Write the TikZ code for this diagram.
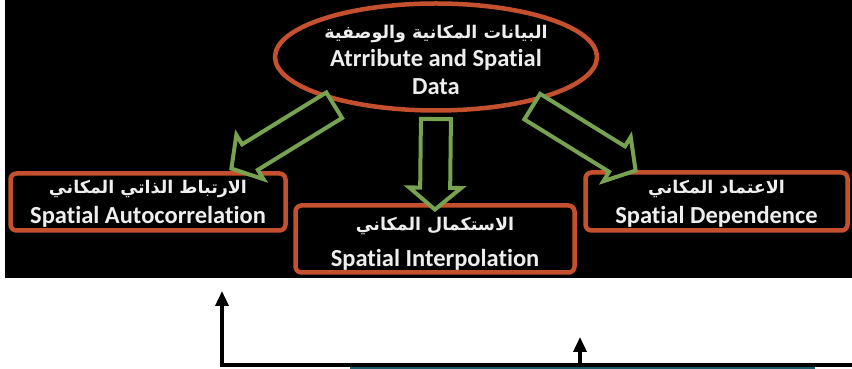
\documentclass[tikz,border=0pt]{standalone}
\usepackage{fontspec}
\setmainfont{Carlito}[Ligatures=NoCommon]
\newfontfamily\arabicfont[Script=Arabic]{DejaVu Sans}
\TeXXeTstate=1
\usetikzlibrary{arrows.meta,calc,shapes.geometric,shapes.arrows}
\definecolor{boxred}{HTML}{C4502E}
\definecolor{shaftgreen}{HTML}{77A24F}
\definecolor{textwhite}{HTML}{EEEEEE}
\definecolor{barteal}{HTML}{1F5B69}
\newcommand{\artext}[1]{{\arabicfont\fontsize{17.5}{18}\selectfont\beginR #1\endR}}
% hollow block arrow between two points, #1 is its name
\newcommand{\fatarrow}[3]{%
  \path let \p1=(#2), \p2=(#3), \n1={atan2(\y2-\y1,\x2-\x1)},
    \n2={veclen(\x2-\x1,\y2-\y1)} in
    node[fatarrow,minimum height=\n2,rotate=\n1] (#1) at ($(#2)!0.5!(#3)$) {};
}

\begin{document}
\begin{tikzpicture}[x=1pt,y=1pt,font=\fontsize{24.5}{28}\selectfont\bfseries,
  box/.style={draw=boxred,line width=4.5pt,fill=black,rounded corners=6pt},
  boxtext/.style={align=center,text=textwhite,inner sep=0pt},
  fatarrow/.style={single arrow,draw=shaftgreen,line width=4pt,fill=black,
    inner xsep=0pt,inner ysep=13pt,single arrow head extend=11pt,
    single arrow tip angle=100}]
  \useasboundingbox (0,0) rectangle (852,369);
  \fill[black] (5,91) rectangle (852,369);
  \node[box,ellipse,rounded corners=0pt,minimum width=322pt,minimum height=107pt]
    (data) at (436,312) {};
  \node[box,minimum width=275pt,minimum height=57pt] (autocorr) at (148,167) {};
  \node[box,minimum width=279pt,minimum height=67pt] (interp) at (435,130) {};
  \node[box,minimum width=262pt,minimum height=58pt] (depend) at (716.5,167.5) {};
  \node[boxtext] (datatext) at ($(data)+(0,-3)$)
    {\artext{البيانات المكانية والوصفية}\\Atrribute and Spatial\\Data};
  \node[boxtext] (autocorrtext) at ($(autocorr)+(0,-2)$)
    {\artext{الارتباط الذاتي المكاني}\\[2pt]Spatial Autocorrelation};
  \node[boxtext] (interptext) at ($(interp)+(0,-5)$)
    {\artext{الاستكمال المكاني}\\[8pt]Spatial Interpolation};
  \node[boxtext] (dependtext) at ($(depend)+(0,-2)$)
    {\artext{الاعتماد المكاني}\\[2pt]Spatial Dependence};
  \coordinate (lefttip) at ($(autocorr.north east)+(-51,6)$);
  \coordinate (righttip) at ($(depend.north west)+(47,3)$);
  \fatarrow{toautocorr}{data.205}{lefttip}
  \fatarrow{tointerp}{data.south}{interp.north}
  \fatarrow{todepend}{data.333}{righttip}
  % feedback lines under the panel
  \coordinate (railend) at (852,4);
  \coordinate (railcorner) at (222,4);
  \coordinate (railtip) at (222,78);
  \coordinate (stubfoot) at (580,4);
  \coordinate (stubtip) at (580,32);
  \fill[barteal] (350,0) rectangle (815,3);
  \draw[line width=3.5pt,-{Triangle[length=15pt,width=13pt]}]
    (railend) -- (railcorner) -- (railtip);
  \draw[line width=3.5pt,-{Triangle[length=15pt,width=13pt]}] (stubfoot) -- (stubtip);
\end{tikzpicture}
\end{document}
